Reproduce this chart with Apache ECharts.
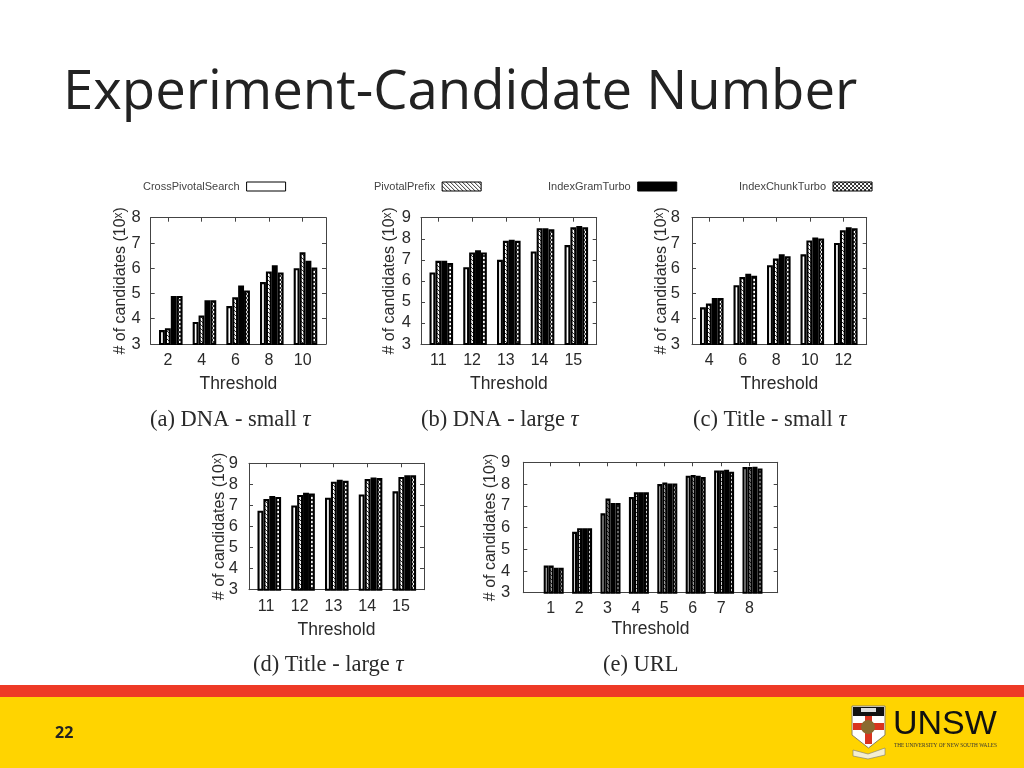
<!DOCTYPE html>
<html><head><meta charset="utf-8">
<style>html,body{margin:0;padding:0;background:#fff}#c{width:1024px;height:768px}</style>
<script src="https://cdn.jsdelivr.net/npm/echarts@6/dist/echarts.min.js"></script>
</head><body><div id="c"></div>
<script>
const seriesNames = ['CrossPivotalSearch','PivotalPrefix','IndexGramTurbo','IndexChunkTurbo'];

const catsA = ['2','4','6','8','10'];
const crossA = [3.55,3.87,4.5,5.45,6.0];
const prefixA = [3.62,4.13,4.85,5.87,6.63];
const gramA = [4.9,4.73,5.32,6.12,6.3];
const chunkA = [4.9,4.73,5.12,5.83,6.03];

const catsB = ['11','12','13','14','15'];
const crossB = [6.4,6.65,7.0,7.4,7.7];
const prefixB = [6.95,7.35,7.9,8.5,8.55];
const gramB = [6.95,7.45,7.95,8.5,8.6];
const chunkB = [6.85,7.35,7.9,8.45,8.55];

const catsC = ['4','6','8','10','12'];
const crossC = [4.45,5.33,6.12,6.55,7.0];
const prefixC = [4.6,5.65,6.38,7.1,7.5];
const gramC = [4.82,5.78,6.55,7.22,7.62];
const chunkC = [4.82,5.7,6.47,7.18,7.58];

const catsD = ['11','12','13','14','15'];
const crossD = [6.75,7.0,7.37,7.52,7.67];
const prefixD = [7.3,7.5,8.13,8.25,8.35];
const gramD = [7.45,7.6,8.22,8.33,8.43];
const chunkD = [7.4,7.57,8.17,8.3,8.43];

const catsE = ['1','2','3','4','5','6','7','8'];
const crossE = [4.25,5.8,6.65,7.4,8.0,8.38,8.62,8.78];
const prefixE = [4.25,5.97,7.33,7.62,8.07,8.42,8.62,8.78];
const gramE = [4.15,5.97,7.13,7.62,8.03,8.38,8.66,8.8];
const chunkE = [4.15,5.97,7.13,7.62,8.03,8.32,8.57,8.72];

function pattern(kind){
  const c=document.createElement('canvas');c.width=c.height=4;
  const g=c.getContext('2d');g.fillStyle='#fff';g.fillRect(0,0,4,4);
  g.strokeStyle='#333';g.lineWidth=1;
  const diag=(a)=>{g.beginPath();
    if(a){g.moveTo(-1,1);g.lineTo(1,-1);g.moveTo(-1,5);g.lineTo(5,-1);g.moveTo(3,5);g.lineTo(5,3);}
    else{g.moveTo(-1,3);g.lineTo(1,5);g.moveTo(-1,-1);g.lineTo(5,5);g.moveTo(3,-1);g.lineTo(5,1);}
    g.stroke();};
  diag(false);
  if(kind==='cross')diag(true);
  return {image:c,repeat:'repeat'};
}
const fills=['#fff',pattern('hatch'),'#000',pattern('cross')];

const panels=[
 {cats:catsA,vals:[crossA,prefixA,gramA,chunkA],ymax:8,l:150.7,r:326,t:217.7,b:344,tick0:168,step:33.67,off:2.8,bw:5.9,nameGap:31,labelM:9,yM:10,nameY:22},
 {cats:catsB,vals:[crossB,prefixB,gramB,chunkB],ymax:9,l:421,r:596.7,t:217.7,b:344,tick0:438.3,step:33.75,off:3,bw:5.9,nameGap:31,labelM:9,yM:10,nameY:23},
 {cats:catsC,vals:[crossC,prefixC,gramC,chunkC],ymax:8,l:692,r:866.7,t:217.7,b:344,tick0:709.3,step:33.5,off:2.5,bw:5.9,nameGap:31,labelM:9,yM:12,nameY:22},
 {cats:catsD,vals:[crossD,prefixD,gramD,chunkD],ymax:9,l:249,r:424,t:463.3,b:589.7,tick0:266,step:33.75,off:3.3,bw:5.9,nameGap:31,labelM:9,yM:11,nameY:21},
 {cats:catsE,vals:[crossE,prefixE,gramE,chunkE],ymax:9,l:523.3,r:777.7,t:462.3,b:592.7,tick0:550.7,step:28.4,off:3,bw:5,nameGap:27,labelM:8,yM:13,nameY:25}
];
const captions=[
 {lead:'(a) DNA - small ',tau:true,x:150,y:420},
 {lead:'(b) DNA - large ',tau:true,x:421,y:420},
 {lead:'(c) Title - small ',tau:true,x:693,y:420},
 {lead:'(d) Title - large ',tau:true,x:253,y:665},
 {lead:'(e) URL',tau:false,x:603,y:665}
];
const legends=[{x:143,i:0},{x:374,i:1},{x:548,i:2},{x:739,i:3}];

const ink='#2a2a2a', line='#444';
const sans='"Liberation Sans",Arial,sans-serif';
const grid=[],xAxis=[],yAxis=[],series=[];
panels.forEach((p,k)=>{
  grid.push({left:p.l,top:p.t,width:p.r-p.l,height:p.b-p.t,containLabel:false});
  const shift=p.off/p.step;                 // ticks sit a little left of the bar groups
  const ticks=p.cats.map((_,i)=>i-shift);
  const xmin=(p.l-p.tick0)/p.step-shift, xmax=(p.r-p.tick0)/p.step-shift;
  const xBase={type:'value',gridIndex:k,min:xmin,max:xmax,splitLine:{show:false},
    axisLine:{show:true,onZero:false,lineStyle:{color:line,width:1}}};
  xAxis.push(Object.assign({},xBase,{position:'bottom',
    axisTick:{show:true,inside:true,length:4,customValues:ticks,lineStyle:{color:line}},
    axisLabel:{show:true,customValues:ticks,margin:p.labelM,color:ink,fontFamily:sans,fontSize:16,
      formatter:v=>p.cats[Math.round(v+shift)]},
    name:'Threshold',nameLocation:'center',nameGap:p.nameGap,nameMoveOverlap:false,
    nameTextStyle:{color:ink,fontFamily:sans,fontSize:17.5}}));
  xAxis.push(Object.assign({},xBase,{position:'top',
    axisTick:{show:true,inside:true,length:4,customValues:ticks,lineStyle:{color:line}},
    axisLabel:{show:false}}));
  const yBase={type:'value',gridIndex:k,min:3,max:p.ymax,interval:1,splitLine:{show:false},
    axisLine:{show:true,onZero:false,lineStyle:{color:line,width:1}},
    axisTick:{show:true,inside:true,length:4,lineStyle:{color:line}}};
  yAxis.push(Object.assign({},yBase,{position:'left',
    axisLabel:{show:true,margin:p.yM,color:ink,fontFamily:sans,fontSize:16.5},
    name:'# of candidates (10{s|x})',nameLocation:'center',nameGap:p.nameY,nameRotate:90,nameMoveOverlap:false,
    nameTextStyle:{color:ink,fontFamily:sans,fontSize:16,
      rich:{s:{fontSize:12,fontFamily:sans,color:ink,verticalAlign:'top',lineHeight:16}}}}));
  yAxis.push(Object.assign({},yBase,{position:'right',axisLabel:{show:false}}));
  seriesNames.forEach((n,s)=>{
    series.push({name:n,type:'bar',xAxisIndex:2*k,yAxisIndex:2*k,barWidth:p.bw,barGap:'0%',
      silent:true,animation:false,
      itemStyle:{color:fills[s],borderColor:'#000',borderWidth:2.1},
      data:p.vals[s].map((v,i)=>[i,v])});
  });
});

const title=[{text:'Experiment-Candidate Number',left:58,top:61,
  textStyle:{fontFamily:'"Open Sans","Noto Sans",sans-serif',fontWeight:'normal',fontSize:54.5,color:'#222'}}];
captions.forEach(c=>{
  title.push({text:c.lead+(c.tau?'{t|τ}':''),left:c.x,top:c.y-13,padding:0,
    textStyle:{fontFamily:'"Liberation Serif",serif',fontWeight:'normal',fontSize:22.5,color:ink,lineHeight:26,
      rich:{t:{fontStyle:'italic',fontFamily:'"Liberation Serif",serif',fontSize:22.5,color:ink}}}});
});

const legend=legends.map(l=>({data:[{name:seriesNames[l.i],icon:'rect'}],left:l.x,top:181,padding:0,align:'right',
  itemWidth:39,itemHeight:9,itemGap:0,selectedMode:false,
  itemStyle:{borderWidth:1},
  textStyle:{fontFamily:'"Liberation Sans",sans-serif',fontSize:11,color:'#444',padding:[0,2,0,0]}}));

const graphic=[
 {type:'rect',shape:{x:0,y:685,width:1024,height:12},style:{fill:'#EE3A26'},silent:true},
 {type:'rect',shape:{x:0,y:697,width:1024,height:71},style:{fill:'#FFD400'},silent:true},
 {type:'text',left:55,top:725,style:{text:'22',font:'bold 16px "Open Sans",sans-serif',fill:'#222'}},
 // UNSW crest
 {type:'polygon',shape:{points:[[852,706],[885,706],[885,735],[868.5,748],[852,735]]},style:{fill:'#fff',stroke:'#8a8060',lineWidth:1}},
 {type:'rect',shape:{x:853,y:707,width:31,height:9},style:{fill:'#111'}},
 {type:'rect',shape:{x:861,y:708,width:15,height:4},style:{fill:'#ddd'}},
 {type:'rect',shape:{x:865,y:716,width:7,height:28},style:{fill:'#D9341F'}},
 {type:'rect',shape:{x:853,y:723,width:31,height:7},style:{fill:'#D9341F'}},
 {type:'circle',shape:{cx:868,cy:727,r:7},style:{fill:'#8a6a30'}},
 {type:'polygon',shape:{points:[[853,750],[868,754],[885,748],[885,755],[868,759],[853,756]]},style:{fill:'#f4eecf',stroke:'#777',lineWidth:.6}},
 {type:'text',left:893,top:708,style:{text:'UNSW',font:'34px "Liberation Sans",sans-serif',fill:'#111'}},
 {type:'text',left:894,top:743,style:{text:'THE UNIVERSITY OF NEW SOUTH WALES',font:'5.3px "Liberation Serif",serif',fill:'#333'}}
];

const chart=echarts.init(document.getElementById('c'),null,{renderer:'canvas'});
chart.setOption({animation:false,backgroundColor:'#fff',title,legend,grid,xAxis,yAxis,series,graphic});
</script></body></html>
